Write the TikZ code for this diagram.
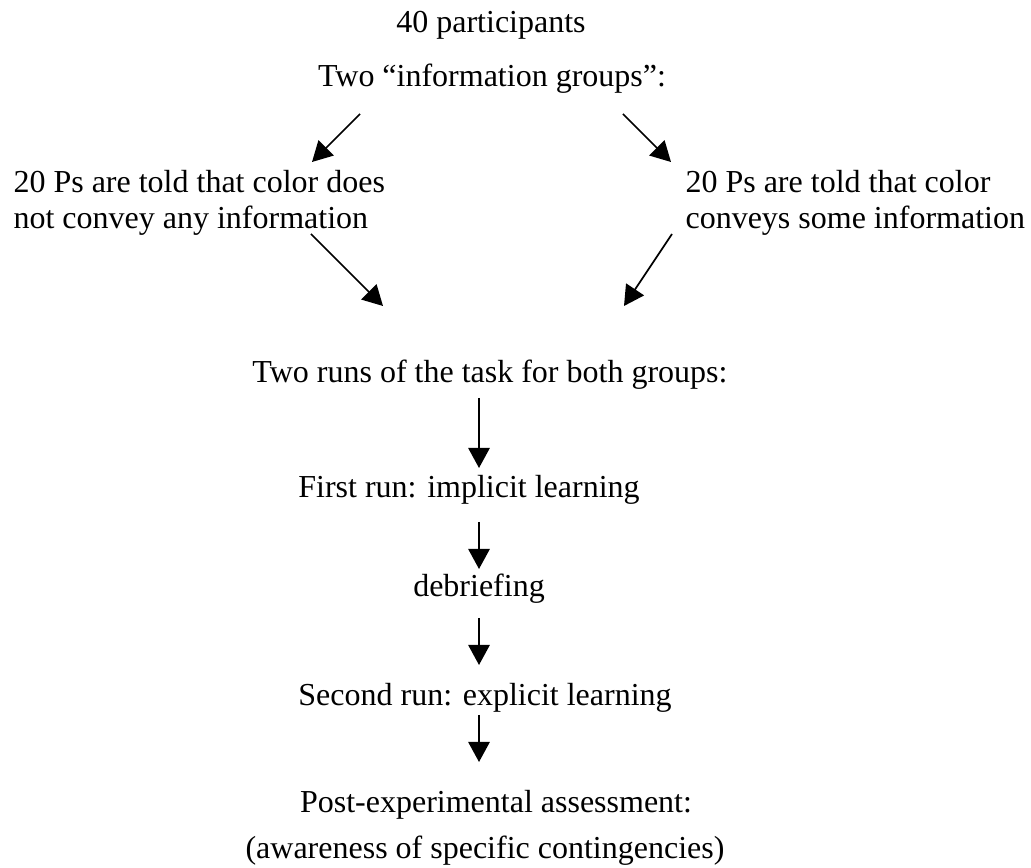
\documentclass[tikz,border=0pt]{standalone}
\usepackage{fontspec}
\setmainfont{Liberation Serif}
\usetikzlibrary{arrows.meta}

\begin{document}
\begin{tikzpicture}[x=0.375pt,y=-0.375pt,
  txt/.style={font=\fontsize{12}{13.5}\selectfont,inner sep=0pt},
  arr/.style={-{Triangle[length=7.5pt,width=8pt]},line width=0.65pt}]
  \useasboundingbox (0,0) rectangle (1031,868);
  \node[txt,anchor=base] (part) at (491,33) {40 participants};
  \node[txt,anchor=base] (groups) at (492,87) {Two ``information groups'':};
  \node[txt,anchor=base west,align=left] (nocolor) at (13,229)
    {20 Ps are told that color does\\not convey any information};
  \node[txt,anchor=base west,align=left] (color) at (685,229)
    {20 Ps are told that color\\conveys some information};
  \node[txt,anchor=base] (runs) at (490,383) {Two runs of the task for both groups:};
  \node[txt,anchor=base] (first) at (469,498) {First run: implicit learning};
  \node[txt,anchor=base] (debrief) at (479,597) {debriefing};
  \node[txt,anchor=base] (second) at (485,705) {Second run: explicit learning};
  \node[txt,anchor=base] (post) at (496,812) {Post-experimental assessment:};
  \node[txt,anchor=base] (aware) at (485,858) {(awareness of specific contingencies)};
  % arrow ends
  \coordinate (gl) at (360,114);
  \coordinate (gr) at (623,114);
  \coordinate (nl) at (312,162);
  \coordinate (nr) at (671,162);
  \coordinate (ml) at (311,234);
  \coordinate (mr) at (672,234);
  \coordinate (jl) at (383,306);
  \coordinate (jr) at (624,306);
  \draw[arr] (gl) -- (nl);
  \draw[arr] (gr) -- (nr);
  \draw[arr] (ml) -- (jl);
  \draw[arr] (mr) -- (jr);
  \coordinate (spine) at (479,0);
  \draw[arr] (spine |- 0,398) -- (spine |- 0,468);
  \draw[arr] (spine |- 0,522) -- (spine |- 0,569);
  \draw[arr] (spine |- 0,618) -- (spine |- 0,665);
  \draw[arr] (spine |- 0,715) -- (spine |- 0,762);
\end{tikzpicture}
\end{document}
